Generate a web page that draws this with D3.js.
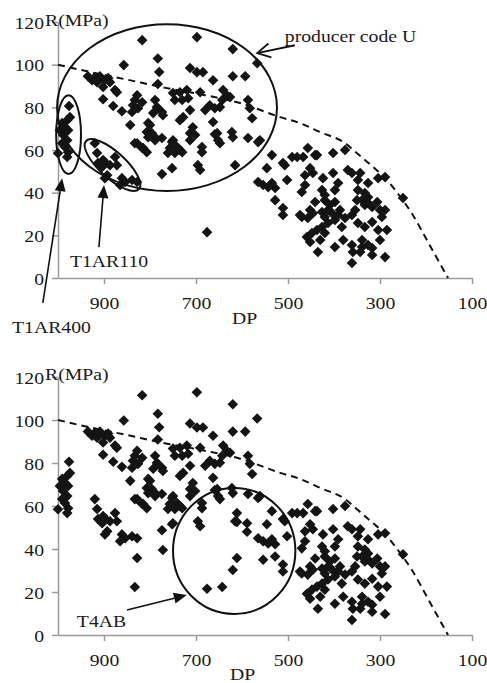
<!DOCTYPE html>
<html><head><meta charset="utf-8">
<script src="https://cdn.jsdelivr.net/npm/d3@7"></script>
<style>body{margin:0;background:#fff}</style>
</head><body>
<svg id="c" width="487" height="683"></svg>
<script>
// ---- data ----
const xTicks = [900, 700, 500, 300, 100];
const yTicks = [0, 20, 40, 60, 80, 100, 120];
const xTitle = "DP";
const yTitle = "R(MPa)";

// points common to both panels [DP, R]
const groupT1AR400 = [[1000,58.5],[980,56.7],[976,80.6],[974,75.4],[980,74.0],[991,72.6],[985,70.7],[996,69.3],[978,69.3],[989,67.0],[980,64.6],[991,63.2],[985,61.4],[978,59.0]];
const groupT1AR110 = [[920,63.2],[915,58.6],[913,53.9],[902,55.3],[898,54.3],[904,52.0],[887,52.9],[876,56.7],[872,52.9],[893,48.2],[898,46.8],[861,46.8],[865,43.6],[854,45.0],[839,45.9],[828,45.0]];
const groupUpperLeft = [[817,111.5],[857,99.8],[783,102.9],[780,96.6],[783,90.9],[926,92.7],[920,94.1],[915,91.8],[935,94.6],[898,92.7],[891,93.7],[902,89.5],[876,88.1],[872,87.1],[902,83.8],[880,80.6],[861,78.2],[828,85.7],[833,83.4],[837,81.0],[817,82.4],[826,79.6],[839,77.8],[789,83.4],[783,79.6],[774,77.8],[793,77.3],[843,71.7],[804,72.6],[796,67.9],[789,66.0],[804,66.0],[774,65.6],[833,63.2],[815,60.9],[807,59.0],[772,76.3],[800,71.7],[807,68.4],[789,64.6],[828,63.2],[817,60.9],[909,94.6],[887,91.8],[785,80.1]];
const groupMiddle = [[698,112.9],[620,107.3],[567,100.7],[713,98.4],[698,96.5],[685,96.5],[663,92.7],[620,94.6],[593,94.6],[750,86.7],[735,87.1],[720,88.1],[746,83.4],[730,83.4],[717,84.3],[691,87.1],[641,88.1],[633,85.7],[643,83.4],[670,81.0],[659,79.6],[680,78.7],[648,80.1],[713,78.7],[728,75.4],[735,74.0],[663,73.1],[587,83.4],[583,79.6],[578,74.9],[707,70.7],[713,67.9],[702,67.0],[622,68.4],[620,66.0],[652,64.6],[648,63.2],[687,61.4],[750,64.6],[741,61.4],[561,64.6],[535,57.6],[659,67.4],[757,60.9],[746,58.6],[735,60.0],[713,64.6],[696,52.9],[615,52.9],[587,65.6],[774,48.7],[752,51.5],[761,58.6],[730,59.0],[691,50.6],[687,59.0],[676,21.5],[626,84.8],[752,63.7],[654,67.9],[565,63.7]];
const groupRight = [[511,53.9],[491,56.7],[480,56.7],[467,56.7],[457,60.9],[441,57.6],[402,58.6],[376,60.0],[546,51.5],[565,45.0],[554,43.6],[543,42.6],[528,42.2],[535,44.5],[502,45.9],[463,48.2],[452,51.5],[446,49.2],[463,43.6],[470,40.3],[402,49.2],[370,50.6],[361,49.2],[343,49.2],[424,46.8],[391,44.5],[326,44.5],[304,46.8],[289,47.3],[426,41.2],[528,36.5],[511,32.8],[511,29.5],[474,29.5],[457,28.1],[441,35.6],[420,36.5],[398,35.6],[409,34.2],[426,30.9],[420,28.6],[413,25.8],[404,30.4],[398,27.2],[391,29.5],[383,23.9],[426,23.9],[437,22.5],[420,21.1],[376,28.1],[387,31.9],[413,31.9],[361,29.5],[354,31.9],[350,36.5],[339,36.5],[333,34.2],[326,35.1],[317,33.3],[306,35.6],[300,31.9],[289,31.9],[296,28.6],[348,25.8],[333,23.9],[317,26.2],[304,22.5],[285,22.5],[459,19.2],[452,16.9],[448,21.1],[435,12.2],[398,14.5],[380,17.8],[361,15.5],[359,12.2],[361,7.0],[339,17.8],[339,14.5],[326,15.5],[317,14.1],[300,17.8],[289,9.8],[317,10.8],[343,12.2],[470,28.6],[452,31.9],[348,41.2],[333,39.8],[326,37.9],[348,45.9],[398,41.2],[420,38.9],[430,17.8],[446,30.4],[250,37.5],[507,52.9],[437,57.6]];
// points only in the lower panel
const groupBottomExtra = [[828,35.8],[833,22.3],[643,22.3],[620,30.2],[611,35.8],[772,39.5],[750,52.0],[611,56.7],[611,52.6],[589,52.0],[589,48.0],[554,35.0]];

// dashed trend curve
const curveDP = [1000, 950, 850, 763, 700, 604, 517, 474, 430, 376, 350, 315, 293, 267, 230, 191, 152];
const curveR  = [100, 97.5, 93, 89, 86.5, 82, 75.4, 72.6, 68.4, 63.2, 58.5, 52, 47.8, 41.2, 30, 15, 0];

// annotations (data units)
const topEllipses = [
  {cx: 763, cy: 79.9, rx: 239, ry: 39.1},   // producer code U
  {cx: 977, cy: 67.2, rx: 27, ry: 18.5}      // T1AR400
];
const tiltedEllipse = {p1: [939, 64.2], p2: [824, 41.7]}; // T1AR110
const bottomEllipse = {cx: 617, cy: 39.1, rx: 133, ry: 29.3}; // T4AB
const topLabels = [
  {text: "producer code U", dp: 507, r: 110.5},
  {text: "T1AR400", dp: 1100, r: -25.8},
  {text: "T1AR110", dp: 974, r: 5.2}
];
const bottomLabels = [{text: "T4AB", dp: 959, r: 3.7}];
const topArrows = [
  {from: [485, 109.1], to: [567, 105.4], open: true},
  {from: [1033, -11.7], to: [991, 46.8], open: false},
  {from: [911, 14.5], to: [900, 43.6], open: false}
];
const bottomArrows = [{from: [850, 11.6], to: [720, 18.6], open: false}];

// ---- drawing ----
const svg = d3.select("#c");
const FONT = "'Liberation Serif', 'Times New Roman', serif";
const SX = 1.16;
const x = d3.scaleLinear().domain([1000, 100]).range([58, 472]);

function stext(g, str, px, py, anchor) {
  return g.append("text").attr("transform", `translate(${px},${py}) scale(${SX},1)`)
    .attr("text-anchor", anchor || "start").style("font-family", FONT).style("font-size", "17px")
    .attr("fill", "#1a1a1a").text(str);
}

function panel(y0, y1, points, ellipses, tilted, labels, arrows, titleY, dpX, dpY) {
  const y = d3.scaleLinear().domain([0, 120]).range([y0, y1]);
  const g = svg.append("g");
  const ax = g.append("g").attr("transform", `translate(0,${y0})`)
    .call(d3.axisBottom(x).tickValues(xTicks).tickSize(6).tickSizeOuter(0).tickFormat(d3.format("d")));
  const ay = g.append("g").attr("transform", `translate(58,0)`)
    .call(d3.axisLeft(y).tickValues(yTicks).tickSize(6).tickSizeOuter(0));
  [ax, ay].forEach(a => {
    a.attr("font-family", null).attr("font-size", null);
    a.select(".domain").attr("stroke", "#9a9a9a").attr("stroke-width", 1.5);
    a.selectAll(".tick line").attr("stroke", "#9a9a9a").attr("stroke-width", 1.5);
    a.selectAll(".tick text").style("font-family", FONT).style("font-size", "17px").attr("fill", "#1a1a1a");
  });
  ax.selectAll(".tick text").attr("y", 0).attr("dy", 0)
    .attr("transform", `translate(0,31) scale(${SX},1)`);
  ay.selectAll(".tick text").attr("x", 0).attr("dy", 0)
    .attr("transform", `translate(-14,6) scale(${SX},1)`);

  // dashed curve
  const line = d3.line().x(d => x(d[0])).y(d => y(d[1])).curve(d3.curveMonotoneX);
  g.append("path").datum(curveDP.map((d, i) => [d, curveR[i]]))
    .attr("d", line).attr("fill", "none").attr("stroke", "#111").attr("stroke-width", 2)
    .attr("stroke-dasharray", "7,5");

  // points
  const sym = d3.symbol().type(d3.symbolSquare).size(56);
  g.append("g").selectAll("path").data(points).join("path")
    .attr("d", sym).attr("fill", "#141414")
    .attr("transform", d => `translate(${x(d[0])},${y(d[1])}) rotate(45)`);

  // ellipses
  ellipses.forEach(e => {
    g.append("ellipse").attr("cx", x(e.cx)).attr("cy", y(e.cy))
      .attr("rx", Math.abs(x(e.cx + e.rx) - x(e.cx))).attr("ry", Math.abs(y(e.cy + e.ry) - y(e.cy)))
      .attr("fill", "none").attr("stroke", "#111").attr("stroke-width", 2);
  });
  if (tilted) {
    const ax1 = x(tilted.p1[0]), ay1 = y(tilted.p1[1]), ax2 = x(tilted.p2[0]), ay2 = y(tilted.p2[1]);
    const cx = (ax1 + ax2) / 2, cy = (ay1 + ay2) / 2;
    const a = Math.hypot(ax2 - ax1, ay2 - ay1) / 2;
    const ang = Math.atan2(ay2 - ay1, ax2 - ax1) * 180 / Math.PI;
    g.append("ellipse").attr("cx", 0).attr("cy", 0).attr("rx", a).attr("ry", 13)
      .attr("transform", `translate(${cx},${cy}) rotate(${ang})`)
      .attr("fill", "none").attr("stroke", "#111").attr("stroke-width", 2);
  }

  // arrows
  arrows.forEach(ar => {
    const fx = x(ar.from[0]), fy = y(ar.from[1]), tx = x(ar.to[0]), ty = y(ar.to[1]);
    const ang = Math.atan2(ty - fy, tx - fx);
    const L = 13, W = 5.5;
    const bx = tx - L * Math.cos(ang), by = ty - L * Math.sin(ang);
    const px = -Math.sin(ang) * W, py = Math.cos(ang) * W;
    if (ar.open) {
      g.append("line").attr("x1", fx).attr("y1", fy).attr("x2", tx).attr("y2", ty)
        .attr("stroke", "#111").attr("stroke-width", 1.8);
      g.append("path").attr("d", `M${bx + px * 1.3},${by + py * 1.3}L${tx},${ty}L${bx - px * 1.3},${by - py * 1.3}`)
        .attr("fill", "none").attr("stroke", "#111").attr("stroke-width", 1.8);
    } else {
      g.append("line").attr("x1", fx).attr("y1", fy).attr("x2", bx).attr("y2", by)
        .attr("stroke", "#111").attr("stroke-width", 1.6);
      g.append("path").attr("d", `M${bx + px},${by + py}L${tx},${ty}L${bx - px},${by - py}Z`)
        .attr("fill", "#111");
    }
  });

  labels.forEach(l => stext(g, l.text, x(l.dp), y(l.r)));
  stext(g, yTitle, 45, titleY);
  stext(g, xTitle, dpX, dpY);
}

const shared = [].concat(groupT1AR400, groupT1AR110, groupUpperLeft, groupMiddle, groupRight);
panel(278, 22, shared, topEllipses, tiltedEllipse, topLabels, topArrows, 26, 232, 324);
panel(635, 377, shared.concat(groupBottomExtra), [bottomEllipse], null, bottomLabels, bottomArrows, 380, 230, 680);
</script>
</body></html>
